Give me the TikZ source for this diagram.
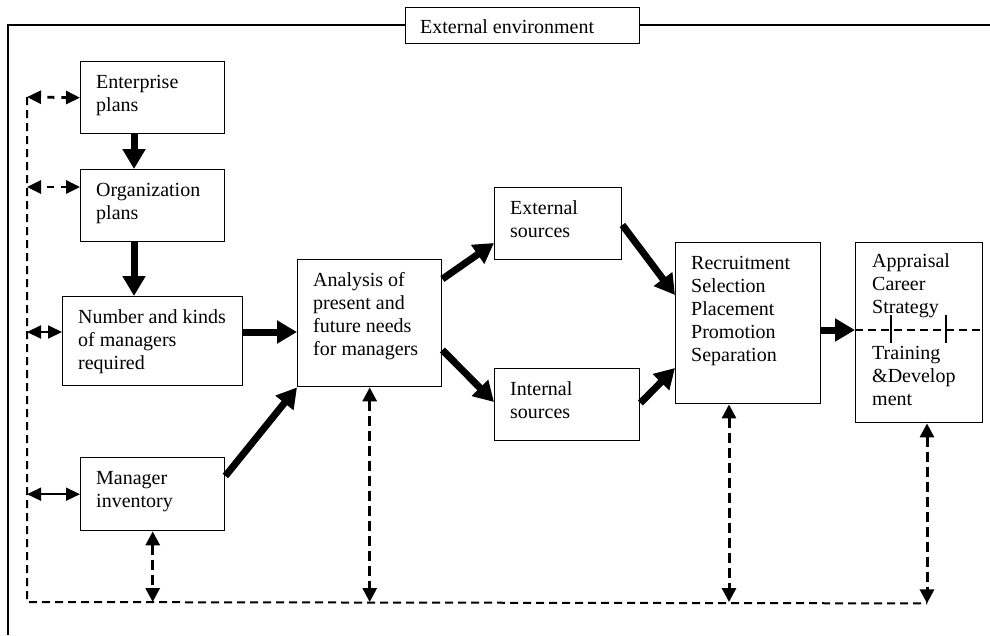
\documentclass[tikz,border=0pt]{standalone}
\usepackage{fontspec}
\setmainfont{Liberation Serif}
\usetikzlibrary{arrows.meta,calc}
\tikzset{
  boxst/.style={draw, line width=1.4pt, rectangle, inner sep=0pt, anchor=north west},
  txt/.style={inner sep=0pt, anchor=base west, font=\fontsize{20}{23}\selectfont},
  thick arrow/.style={line width=7pt, -{Triangle[length=20pt,width=22pt]}},
  dash arrow/.style={line width=3pt, dash pattern=on 10pt off 5pt,
     {Triangle[length=14pt,width=14pt]}-{Triangle[length=14pt,width=14pt]}},
  side arrow/.style={line width=2.8pt, dash pattern=on 7pt off 7pt, dash phase=7pt,
     {Triangle[length=14pt,width=13pt]}-{Triangle[length=14pt,width=13pt]}},
  solid side/.style={line width=1.6pt,
     {Triangle[length=14pt,width=13pt]}-{Triangle[length=14pt,width=13pt]}},
  fb line/.style={line width=2pt, dash pattern=on 8pt off 5pt},
}
\newcommand\linesof[1]{\begin{tabular}[t]{@{}l@{}}#1\end{tabular}}
\newcommand\mybox[6]{%
  \node[boxst, minimum width={(#4-#2)*1pt}, minimum height={(#5-#3)*1pt}] (#1) at (#2,#3) {};
  \node[txt] (#1t) at ({#2+16},{#3+27}) {\linesof{#6}};
}
\begin{document}
\begin{tikzpicture}[x=1pt,y=-1pt]
\useasboundingbox (0,0) rectangle (990,635);
% frame
\coordinate (ftr) at (990,25);
\coordinate (ftl) at (8,25);
\coordinate (fbl) at (8,635);
\draw[line width=1.4pt] (ftr) -- (ftl) -- (fbl);
\node[boxst, fill=white, minimum width=234pt, minimum height=36pt] (env) at (405,7) {};
\node[txt] (envt) at (420,33) {External environment};

% boxes
\mybox{ent}{80}{61}{224}{133}{Enterprise\\plans}
\mybox{org}{80}{169}{224}{241}{Organization\\plans}
\mybox{num}{62}{296}{242}{385}{Number and kinds\\of managers\\required}
\mybox{mgr}{80}{457}{224}{530}{Manager\\inventory}
\mybox{ana}{297}{259}{441}{386}{Analysis of\\present and\\future needs\\for managers}
\mybox{ext}{494}{187}{621}{259}{External\\sources}
\mybox{int}{494}{368}{639}{440}{Internal\\sources}
\mybox{rec}{675}{242}{820}{403}{Recruitment\\Selection\\Placement\\Promotion\\Separation}
\node[boxst, minimum width=127pt, minimum height=180pt] (app) at (855,242) {};
\node[txt] (appt) at (872,267) {\linesof{Appraisal\\Career\\Strategy\\ \\Training\\\&Develop\\ment}};

% thick arrows
\draw[thick arrow] ($(ent.south west)+(54,0)$) -- ($(org.north west)+(54,0)$);
\draw[thick arrow] ($(org.south west)+(54,0)$) -- ($(num.north west)+(72,0)$);
\draw[thick arrow] ($(num.north east)+(0,36)$) -- ($(ana.north west)+(0,73)$);
\draw[thick arrow] ($(mgr.north east)+(0,19)$) -- (ana.south west);
\draw[thick arrow] ($(ana.north east)+(0,20)$) -- ($(ext.north west)+(0,56)$);
\draw[thick arrow] ($(ana.north east)+(0,91)$) -- ($(int.north west)+(0,34)$);
\draw[thick arrow] ($(ext.north east)+(0,38)$) -- ($(rec.north west)+(0,53)$);
\draw[thick arrow] ($(int.north east)+(0,35)$) -- ($(rec.north west)+(0,126)$);
\draw[thick arrow] ($(rec.north east)+(0,88)$) -- ($(app.north west)+(0,88)$);

% feedback loop
\coordinate (tl) at (27,97);
\coordinate (bl) at (27,602);
\coordinate (br) at ($(app.south west)+(72,180)$);
\coordinate (recb) at ($(rec.south west)+(54,0)$);
\coordinate (orgl) at ($(org.north west)+(0,18)$);
\coordinate (numl) at ($(num.north west)+(0,36)$);
\draw[fb line] (tl) -- (bl) -- (br);
\draw[side arrow] (tl) -- (ent.west);
\draw[side arrow] (tl |- orgl) -- (orgl);
\draw[solid side, line width=2pt] (tl |- numl) -- (numl);
\draw[solid side] (tl |- mgr.west) -- (mgr.west);
\draw[dash arrow] (mgr.south) -- (mgr.south |- bl);
\draw[dash arrow] (ana.south) -- (ana.south |- bl);
\draw[dash arrow] (recb) -- (recb |- bl);
\draw[dash arrow] ($(app.south west)+(72,0)$) -- (br);

% dashed line inside appraisal box
\draw[fb line] ($(app.north west)+(0,88)$) -- ($(app.north east)+(0,88)$);
\draw[line width=1.6pt] ($(app.north west)+(36,73)$) -- ($(app.north west)+(36,101)$);
\draw[line width=1.6pt] ($(app.north west)+(91,73)$) -- ($(app.north west)+(91,101)$);
\end{tikzpicture}
\end{document}
